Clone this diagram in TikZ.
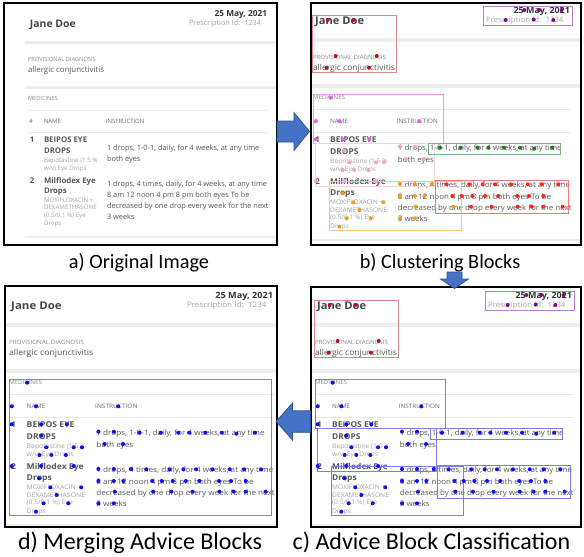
\documentclass[tikz,border=0pt]{standalone}
\usepackage{fontspec}
\setmainfont{Open Sans}
\newfontfamily\capfont{Carlito}

% ink and fill colours
\definecolor{inkA}{HTML}{454545}
\definecolor{inkB}{HTML}{333333}
\definecolor{inkM}{HTML}{585858}
\definecolor{inkH}{HTML}{6C6C6C}
\definecolor{inkC}{HTML}{8C8C8C}
\definecolor{inkL}{HTML}{A6A6A6}
\definecolor{bandgray}{HTML}{EEEEEE}
\definecolor{rulegray}{HTML}{E8E8E8}
\definecolor{arrowfill}{HTML}{4472C4}
\definecolor{arrowline}{HTML}{2F528F}
% cluster colours (box outline / point fill)
\definecolor{jBox}{HTML}{D98A8A}\definecolor{jDot}{HTML}{B0141E}
\definecolor{dBox}{HTML}{BC7CCC}\definecolor{dDot}{HTML}{800A80}
\definecolor{mBox}{HTML}{EE9BEE}\definecolor{mDot}{HTML}{E45FE4}
\definecolor{bBox}{HTML}{F6D2DC}\definecolor{bDot}{HTML}{F4A6BC}
\definecolor{gBox}{HTML}{78B878}\definecolor{gDot}{HTML}{1E7A1E}
\definecolor{oBox}{HTML}{F6C67A}\definecolor{oDot}{HTML}{F29B1E}
\definecolor{rBox}{HTML}{F07A74}\definecolor{rDot}{HTML}{F0281E}
\definecolor{uBox}{HTML}{7C7CF0}\definecolor{uDot}{HTML}{1010F0}

\newcommand\rxreg[1]{\fontsize{#1}{#1}\selectfont}
\newcommand\rxbold[1]{\fontsize{#1}{#1}\selectfont\bfseries}

\tikzset{
  txt/.style={inner sep=0pt, outer sep=0pt, anchor=base west},
  txtr/.style={inner sep=0pt, outer sep=0pt, anchor=base east},
  capt/.style={inner sep=0pt, anchor=base, font=\capfont\fontsize{20.3}{21}\selectfont},
  captlow/.style={inner sep=0pt, anchor=base, font=\capfont\fontsize{24}{25}\selectfont},
  panel/.style={draw=black, line width=1.4pt},
  clusterbox/.style={line width=0.8pt},
  blockarrow/.style={fill=arrowfill, draw=arrowline, line width=0.7pt, line join=miter},
}

% the prescription page, in its own units
\newcommand\rxpage{%
  \fill[bandgray] (25,40.5) rectangle (300,44);
  \fill[bandgray] (25,85.5) rectangle (300,89);
  \draw[rulegray, line width=0.6pt] (28,110) -- (268,110);
  \draw[rulegray, line width=0.6pt] (28,132) -- (268,132);
  \fill[bandgray] (25,236) rectangle (300,238);
  \node[txt, font=\rxbold{10.4}, text=inkA] (name) at (30,27) {Jane Doe};
  \node[txtr, font=\rxbold{8.3}, text=inkB] (date) at (267,16.5) {25 May, 2021};
  \node[txtr, font=\rxreg{7.3}, text=inkL] (pid) at (261,25.5) {Prescription Id:\hspace{4pt}1234};
  \node[txt, font=\rxreg{5.7}, text=inkC] (dxlabel) at (28,61) {PROVISIONAL DIAGNOSIS};
  \node[txt, font=\rxreg{7.9}, text=inkM] (dx) at (28,72) {allergic conjunctivitis};
  \node[txt, font=\rxreg{5.7}, text=inkC] (medlabel) at (28,100.5) {MEDICINES};
  \node[txt, font=\rxreg{5.9}, text=inkH] (hnum) at (29,123.5) {\#};
  \node[txt, font=\rxreg{5.9}, text=inkH] (hname) at (44,123.5) {NAME};
  \node[txt, font=\rxreg{5.9}, text=inkH] (hinstr) at (106,123.5) {INSTRUCTION};
  \node[txt, font=\rxbold{7.8}, text=inkM] (nA) at (30,142) {1};
  \node[txt, font=\rxbold{7.8}, text=inkM] (drugAa) at (44,142) {BEIPOS EYE};
  \node[txt, font=\rxbold{7.8}, text=inkM] (drugAb) at (44,153.5) {DROPS};
  \node[txt, font=\rxreg{6.2}, text=inkL] (genAa) at (44,162.5) {Bepotastine (1.5 \%};
  \node[txt, font=\rxreg{6.2}, text=inkL] (genAb) at (44,170.5) {w/v) Eye Drops};
  \node[txt, font=\rxreg{7.4}, text=inkM] (insAa) at (107,150) {1 drops, 1-0-1, daily, for 4 weeks, at any time};
  \node[txt, font=\rxreg{7.4}, text=inkM] (insAb) at (107,161) {both eyes};
  \node[txt, font=\rxbold{7.8}, text=inkM] (nB) at (30,183) {2};
  \node[txt, font=\rxbold{7.8}, text=inkM] (drugBa) at (44,183) {Milflodex Eye};
  \node[txt, font=\rxbold{7.8}, text=inkM] (drugBb) at (44,193.5) {Drops};
  \node[txt, font=\rxreg{6.2}, text=inkL] (genBa) at (44,202) {MOXIFLOXACIN +};
  \node[txt, font=\rxreg{6.2}, text=inkL] (genBb) at (44,209.5) {DEXAMETHASONE};
  \node[txt, font=\rxreg{6.2}, text=inkL] (genBc) at (44,217) {(0.5/0.1 \%) Eye};
  \node[txt, font=\rxreg{6.2}, text=inkL] (genBd) at (44,225) {Drops};
  \node[txt, font=\rxreg{7.4}, text=inkM] (insBa) at (107,186) {1 drops, 4 times, daily, for 4 weeks, at any time};
  \node[txt, font=\rxreg{7.4}, text=inkM] (insBb) at (107,197) {8 am 12 noon 4 pm 8 pm both eyes To be};
  \node[txt, font=\rxreg{7.4}, text=inkM] (insBc) at (107,208) {decreased by one drop every week for the next};
  \node[txt, font=\rxreg{7.4}, text=inkM] (insBd) at (107,219) {3 weeks};
}

% word points of each cluster (units of the clustering panel)
\newcommand\ptsJ[1]{\foreach \u/\v in {327.7/20, 353.3/20, 335.7/56, 376.7/56, 326.7/67.7, 369/67.7}
  \fill[#1] (\u,\v) circle[radius=2];}
\newcommand\ptsD[1]{\foreach \u/\v in {524.3/10, 539/10, 561.7/10, 505.7/20, 533.7/19.5, 553.3/20}
  \fill[#1] (\u,\v) circle[radius=2];}
\newcommand\ptsM[1]{\foreach \u/\v in {330.7/97.7, 315.7/121.3, 339.3/121.3, 419.3/121.3, 315.7/139.3, 344.3/139.3, 369.3/139.3}
  \fill[#1] (\u,\v) circle[radius=2];}
\newcommand\ptsB[1]{\foreach \u/\v in {344.3/150.7, 400/146.7, 415/146.7, 406/159, 424/159, 349.3/162.3, 376/162.3, 384/162.3, 342.7/170, 354.3/170, 368.3/170, 315.7/181, 344.3/181, 376/181}
  \fill[#1] (\u,\v) circle[radius=2];}
\newcommand\ptsG[1]{\foreach \u/\v in {440/147.7, 460.7/147.7, 477.7/147.7, 488.3/147.7, 504/147.7, 520/147.7, 534.3/148.7, 552.3/147.7}
  \fill[#1] (\u,\v) circle[radius=2];}
\newcommand\ptsO[1]{\foreach \u/\v in {400/184, 415/184, 431.7/184, 342.3/193.3, 400/196, 415/196, 424.3/196, 353.3/202.3, 383.3/202.3, 416/206.7, 453.3/206.7, 359.3/210, 346.7/218.3, 370.7/218.3, 400/218.3, 415/218.3, 339.3/226.7}
  \fill[#1] (\u,\v) circle[radius=2];}
\newcommand\ptsR[1]{\foreach \u/\v in {446.7/184.3, 469.3/184.3, 482.7/184.3, 495/184.3, 511/184.3, 527.7/184.3, 541.7/184.3, 558.3/184.3, 452.3/196, 461.7/196, 472.3/196, 485/196, 498.3/196, 517.3/196, 529/196, 543.3/196, 471/206.7, 491.7/206.7, 517.7/206.7, 531.7/206.7, 543.3/206.7, 562.7/206.7}
  \fill[#1] (\u,\v) circle[radius=2];}

% cluster outlines
\newcommand\boxJ[1]{\draw[clusterbox, #1] (312.7,15) rectangle (396,72.3);}
\newcommand\boxD[1]{\draw[clusterbox, #1] (483.5,6) rectangle (572.5,25.7);}
\newcommand\boxM[1]{\draw[clusterbox, #1] (313,94.3) rectangle (443.3,143.3);}
\newcommand\boxB[1]{\draw[clusterbox, #1] (315,143.5) rectangle (434,186);}
\newcommand\boxG[1]{\draw[clusterbox, #1] (428.3,143.3) rectangle (560.7,154);}
\newcommand\boxO[1]{\draw[clusterbox, #1] (329.3,181) rectangle (461.7,230);}
\newcommand\boxR[1]{\draw[clusterbox, #1] (435,180) rectangle (568.3,213.3);}

\begin{document}
\begin{tikzpicture}[x=1pt, y=-1pt]
\useasboundingbox[fill=white] (0,0) rectangle (584,557);

% ---------- a) original page ----------
\begin{scope}
  \clip (4,3) rectangle (277,245);
  \begin{scope}[name prefix=pa-]
    \rxpage
  \end{scope}
\end{scope}
\draw[panel] (4,3) rectangle (277,245);
\node[capt] (capA) at (139,268.5) {a) Original Image};

% ---------- b) clustering ----------
\begin{scope}
  \clip (311,3) rectangle (581,245);
  \begin{scope}[name prefix=pb-, shift={(282.9,-3.7)}, xscale=1.075, yscale=1.03, transform shape]
    \rxpage
  \end{scope}
  \boxJ{jBox}\boxD{dBox}\boxM{mBox}\boxB{bBox}\boxG{gBox}\boxO{oBox}\boxR{rBox}
  \ptsJ{jDot}\ptsD{dDot}\ptsM{mDot}\ptsB{bDot}\ptsG{gDot}\ptsO{oDot}\ptsR{rDot}
\end{scope}
\draw[panel] (311,3) rectangle (581,245);
\node[capt] (capB) at (440,268.5) {b) Clustering Blocks};

% ---------- c) advice block classification ----------
\begin{scope}
  \clip (311,287) rectangle (581,527);
  \begin{scope}[name prefix=pc-, shift={(284.9,281.3)}, xscale=1.075, yscale=1.03, transform shape]
    \rxpage
  \end{scope}
  \begin{scope}[shift={(2,285)}]
    \boxJ{jBox}\boxD{dBox}\boxM{uBox}\boxB{uBox}\boxG{uBox}\boxO{uBox}\boxR{uBox}
    \ptsJ{jDot}\ptsD{dDot}\ptsM{uDot}\ptsB{uDot}\ptsG{uDot}\ptsO{uDot}\ptsR{uDot}
  \end{scope}
\end{scope}
\draw[panel] (311,287) rectangle (581,527);
\node[captlow] (capC) at (431.5,549) {c) Advice Block Classification};

% ---------- d) merged advice block ----------
\begin{scope}
  \clip (5,286) rectangle (277,527);
  \begin{scope}[name prefix=pd-, shift={(-21.9,281.3)}, xscale=1.105, yscale=1.03, transform shape]
    \rxpage
  \end{scope}
  \begin{scope}[shift={(-312.8,285)}, xscale=1.028]
    \draw[clusterbox, uBox] (313,94.3) rectangle (568.3,230);
    \ptsM{uDot}\ptsB{uDot}\ptsG{uDot}\ptsO{uDot}\ptsR{uDot}
  \end{scope}
\end{scope}
\draw[panel] (5,286) rectangle (277,527);
\node[captlow] (capD) at (140,549) {d) Merging Advice Blocks};

% ---------- block arrows between the stages ----------
\coordinate (ab) at (277,131.5);
\coordinate (bc) at (454.5,272);
\coordinate (cd) at (310.5,421.5);
\filldraw[blockarrow] ([shift={(0,-10.5)}]ab) -- ++(17,0) -- ++(0,-8.5) -- ++(15.5,19) -- ++(-15.5,19) -- ++(0,-8.5) -- ++(-17,0) -- cycle;
\filldraw[blockarrow] ([shift={(-7.5,0)}]bc) -- ++(0,7) -- ++(-6.5,0) -- ++(14,9.5) -- ++(14,-9.5) -- ++(-6.5,0) -- ++(0,-7) -- cycle;
\filldraw[blockarrow] ([shift={(0,-10.75)}]cd) -- ++(-18,0) -- ++(0,-7.75) -- ++(-16.5,18.5) -- ++(16.5,18.5) -- ++(0,-7.75) -- ++(18,0) -- cycle;
\end{tikzpicture}
\end{document}
